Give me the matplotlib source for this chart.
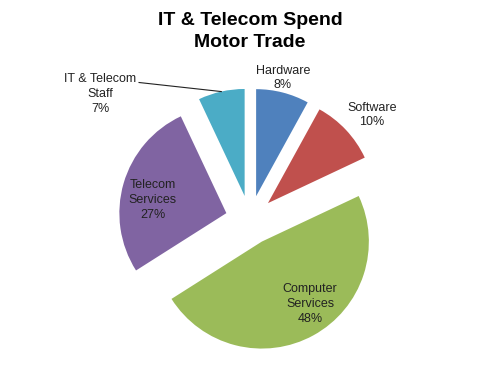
import matplotlib
matplotlib.use('Agg')
import matplotlib.pyplot as plt
import numpy as np

categories = ['Hardware', 'Software', 'Computer\nServices', 'Telecom\nServices', 'IT & Telecom\nStaff']
values = [8, 10, 48, 27, 7]
colors = ['#4F81BD', '#C0504D', '#9BBB59', '#8064A2', '#4BACC6']

# label positions (data units, pie radius = 1)
label_pos = [(0.308, 1.327), (1.140, 0.981), (0.561, -0.785), (-0.907, 0.187), (-1.402, 1.178)]

plt.rcParams['font.family'] = ['Liberation Sans', 'DejaVu Sans']

fig = plt.figure(figsize=(5, 3.87), dpi=100)
ax = fig.add_axes([0, 0, 1, 1])
explode = [0.23] * len(values)
wedges, _ = ax.pie(values, explode=explode, startangle=90, counterclock=False,
                   colors=colors, radius=1, wedgeprops=dict(linewidth=0))

# 107 px per unit, pie centre at (250, 220) px from top-left
ax.set_xlim(-250 / 107, 250 / 107)
ax.set_ylim(-167 / 107, 220 / 107)
ax.set_aspect('auto')
ax.axis('off')

for cat, v, (x, y) in zip(categories, values, label_pos):
    ax.text(x, y, f'{cat}\n{v}%', ha='center', va='center', fontsize=9,
            linespacing=1.3, color='#222222')

# leader line for the staff slice
w = wedges[-1]
mid = np.deg2rad((w.theta1 + w.theta2) / 2)
cx, cy = w.center
end = (cx + w.r * np.cos(mid), cy + w.r * np.sin(mid))
ax.plot([-1.037, end[0]], [1.285, end[1]], color='#222222', lw=0.8)

fig.text(0.5, 1 - 31.5 / 387, 'IT & Telecom Spend\nMotor Trade', ha='center', va='center',
         fontsize=14, fontweight='bold', linespacing=1.4)

fig.savefig('out.png', dpi=100, facecolor='white')
